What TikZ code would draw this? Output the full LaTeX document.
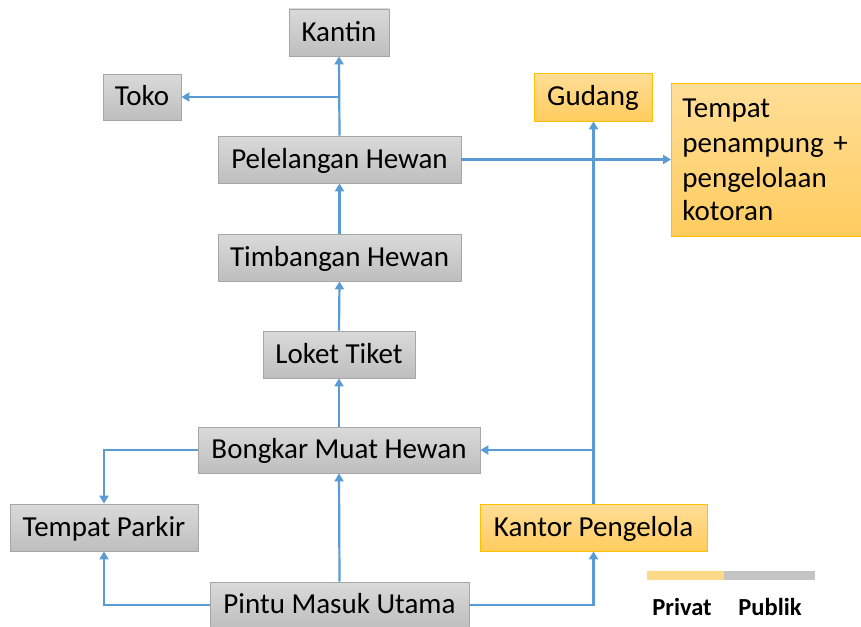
\documentclass[tikz,border=0pt]{standalone}
\usepackage{fontspec}
\setmainfont{Carlito}
\usetikzlibrary{arrows.meta}
\definecolor{arr}{HTML}{5B9BD5}
\definecolor{gtop}{HTML}{DADADA}
\definecolor{gbot}{HTML}{BEBEBE}
\definecolor{gbd}{HTML}{A6A6A6}
\definecolor{otop}{HTML}{FFDE98}
\definecolor{obot}{HTML}{FFCC5E}
\definecolor{obd}{HTML}{FFC000}
\definecolor{legg}{HTML}{C4C4C4}
\definecolor{lego}{HTML}{FFD98A}
\begin{document}
\begin{tikzpicture}[x=1pt,y=-1pt,
  pub/.style={draw=gbd,line width=0.8pt,top color=gtop,bottom color=gbot,font=\fontsize{29}{33}\selectfont,inner sep=0pt,text height=22pt,text depth=4.5pt},
  prv/.style={draw=obd,line width=0.8pt,top color=otop,bottom color=obot,font=\fontsize{29}{33}\selectfont,inner sep=0pt},
  con/.style={draw=arr,line width=2.2pt},
  ar/.style={con,-{Triangle[length=8pt,width=9pt]}}]
\useasboundingbox (0,0) rectangle (861,626);
\node[pub,minimum width=100pt,minimum height=47pt] (kan) at (339,32.5) {Kantin};
\node[pub,minimum width=78pt,minimum height=46pt] (tok) at (142,97) {Toko};
\node[pub,minimum width=243pt,minimum height=47pt] (pel) at (339.5,159.5) {Pelelangan Hewan};
\node[pub,minimum width=243pt,minimum height=47pt] (tim) at (339.5,257.5) {Timbangan Hewan};
\node[pub,minimum width=152pt,minimum height=47pt] (lok) at (339,354.5) {Loket Tiket};
\node[pub,minimum width=282pt,minimum height=46pt] (bon) at (339,450) {Bongkar Muat Hewan};
\node[pub,minimum width=188pt,minimum height=47pt] (par) at (104,527.5) {Tempat Parkir};
\node[pub,minimum width=259pt,minimum height=46pt] (pin) at (339.5,605) {Pintu Masuk Utama};
\node[prv,minimum width=227pt,minimum height=47pt,text height=22pt,text depth=4.5pt] (kapeng) at (593.5,527.5) {Kantor Pengelola};
\node[prv,minimum width=118pt,minimum height=48pt,text height=22pt,text depth=4.5pt] (gud) at (593,97) {Gudang};
\node[prv,minimum width=192pt,minimum height=153pt,anchor=north west,align=left,text width=170pt,inner xsep=11pt,inner ysep=8pt] (tem) at (671,83) {\baselineskip=35pt Tempat\\penampung +\\pengelolaan\\kotoran};
\coordinate (j1) at (339,97);
\coordinate (j2) at (594,450);
\draw[ar] (pel.north) -- (kan.south);
\draw[ar] (j1) -- (tok.east);
\draw[ar] (tim.north) -- (pel.south);
\draw[ar] (lok.north) -- (tim.south);
\draw[ar] (bon.north) -- (lok.south);
\draw[ar] (pin.north) -- (bon.south);
\draw[ar] (bon.west) -| (par.north);
\draw[ar] (pin.west) -| (par.south);
\draw[ar] (pin.east) -| (kapeng.south);
\draw[ar] (kapeng.north) -- (kapeng.north |- gud.south);
\draw[ar] (j2) -- (bon.east);
\draw[ar] (pel.east) -- (pel.east -| tem.west);
\node[fill=lego,minimum width=77pt,minimum height=9pt,inner sep=0pt] (lo) at (685.5,575.5) {};
\node[fill=legg,minimum width=91pt,minimum height=9pt,inner sep=0pt] (lg) at (769.5,575.5) {};
\node[font=\fontsize{24.5}{28}\selectfont\bfseries] (lp) at (682,607) {Privat};
\node[font=\fontsize{24.5}{28}\selectfont\bfseries] (lu) at (770,607) {Publik};
\end{tikzpicture}
\end{document}
